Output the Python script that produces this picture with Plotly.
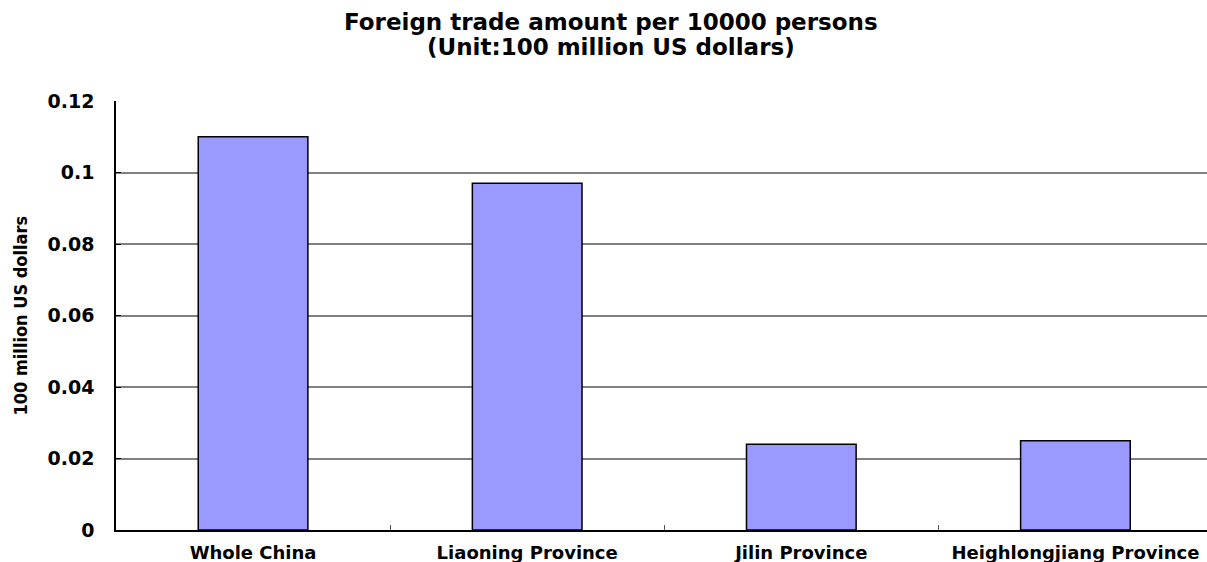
import plotly.graph_objects as go

regions = ["Whole China", "Liaoning Province", "Jilin Province", "Heighlongjiang Province"]
trade_per_10k = [0.110, 0.097, 0.024, 0.025]
y_ticks = [0, 0.02, 0.04, 0.06, 0.08, 0.1, 0.12]
y_tick_text = ["0", "0.02", "0.04", "0.06", "0.08", "0.1", "0.12"]
title_lines = ["Foreign trade amount per 10000 persons", "(Unit:100 million US dollars)"]

FONT = "DejaVu Sans, Liberation Sans, Arial, sans-serif"
NARROW = "DejaVu Sans Condensed, Liberation Sans Narrow, DejaVu Sans, sans-serif"

PLOT_TOP = 101
PLOT_H = 429
PLOT_W = 1091


def above_plot(px):
    """Paper y-coordinate of a pixel row above the plot area."""
    return 1.0 + (PLOT_TOP - px) / PLOT_H


fig = go.Figure(
    go.Bar(
        x=regions,
        y=trade_per_10k,
        width=0.4,
        marker=dict(color="#9999FF", line=dict(color="#000000", width=1.5)),
        hoverinfo="x+y",
    )
)

annotations = [
    dict(
        text=f"<b>{line}</b>",
        xref="paper",
        yref="paper",
        x=(611 - 116) / PLOT_W,
        y=above_plot(py),
        xanchor="center",
        yanchor="middle",
        showarrow=False,
        font=dict(family=FONT, size=23, color="black"),
    )
    for line, py in zip(title_lines, [22, 47])
]
annotations.append(
    dict(
        text="<b>100 million US dollars</b>",
        xref="paper",
        yref="paper",
        x=-96 / PLOT_W,
        y=0.5,
        xanchor="center",
        yanchor="middle",
        textangle=-90,
        showarrow=False,
        font=dict(family=NARROW, size=18, color="black"),
    )
)

fig.update_layout(
    width=1207,
    height=562,
    margin=dict(l=116, r=0, t=PLOT_TOP, b=32),
    paper_bgcolor="white",
    plot_bgcolor="white",
    showlegend=False,
    font=dict(family=FONT, color="black"),
    annotations=annotations,
)

fig.update_xaxes(
    range=[-0.5, 3.48],
    showline=True,
    linecolor="black",
    linewidth=1.5,
    ticks="inside",
    tickson="boundaries",
    ticklen=5,
    tickcolor="#555555",
    tickwidth=1,
    showgrid=False,
    ticklabelstandoff=6,
    tickfont=dict(family=FONT, size=18, color="black", weight="bold"),
)

fig.update_yaxes(
    range=[0, 0.12],
    tickvals=y_ticks,
    ticktext=y_tick_text,
    showline=True,
    linecolor="black",
    linewidth=1.5,
    ticks="inside",
    ticklen=5,
    tickcolor="black",
    showgrid=True,
    gridcolor="#808080",
    gridwidth=1.5,
    zeroline=False,
    ticklabelstandoff=16,
    tickfont=dict(family=FONT, size=19, color="black", weight="bold"),
)

fig.write_html("out.html")
